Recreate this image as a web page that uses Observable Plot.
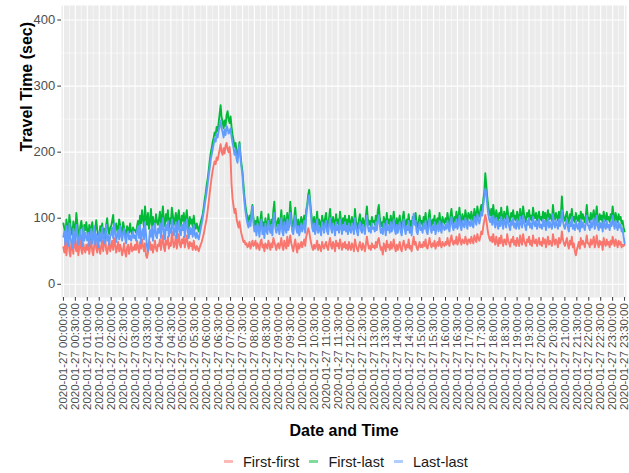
<!DOCTYPE html>
<html>
<head>
<meta charset="utf-8">
<script src="https://cdn.jsdelivr.net/npm/d3@7"></script>
<script src="https://cdn.jsdelivr.net/npm/@observablehq/plot@0.6"></script>
<style>
  html, body { margin: 0; padding: 0; background: #ffffff; }
  #chart { width: 629px; font-family: "Liberation Sans", Arial, sans-serif; }
  #legend { position: relative; height: 23px; display: flex; align-items: center;
            padding-left: 224px; font: 14.5px "Liberation Sans", Arial, sans-serif; color: #1a1a1a; }
  #legend .key { display: inline-block; width: 9px; height: 2.2px; margin-right: 10px; opacity: 0.5; }
  #legend .lab { margin-right: 10px; }
</style>
</head>
<body>
<div id="chart"></div>
<div id="legend"></div>
<script>
// Travel time (sec) on 2020-01-27, sampled every 2.5 minutes.
// Each inner array holds one hour of samples (hour 23 runs to 23:30).
const seriesNames = ["First-first", "First-last", "Last-last"];
const seriesColors = ["#F8766D", "#00BA38", "#619CFF"];
const sampleMinutes = 2.5;
const dateLabel = "2020-01-27";

const firstFirst = [
  [56,48,68,44, 60,72,50,42, 64,54,46,76, 58,50,66,44, 56,70,52,46, 62,54,48,60],
  [52,62,46,58, 68,50,44,60, 72,54,48,64, 56,46,58,66, 50,62,70,52, 46,56,64,50],
  [58,66,52,70, 60,48,56,64, 50,60,54,44, 52,62,48,42, 56,60,46,54, 62,50,56,52],
  [60,52,66,56, 48,64,54,68, 58,50,62,44, 40,48,56,64, 52,60,48,56, 66,54,50,60],
  [58,68,52,64, 74,56,50,66, 60,72,54,62, 58,80,66,56, 62,74,54,66, 76,60,56,68],
  [62,72,56,66, 74,60,54,64, 58,62,52,66, 56,52,58,54, 50,56,60,64, 70,76,84,92],
  [100,112,124,138, 150,162,172,180, 186,182,192,188, 196,204,212,200, 196,206,198,210, 214,204,200,208],
  [192,150,130,118, 108,114,100,92, 86,95,84,76, 70,64,66,60, 62,56,58,64, 54,60,66,58],
  [60,66,54,62, 58,52,64,68, 56,60,50,62, 58,54,66,60, 52,62,56,70, 64,58,52,60],
  [62,54,60,70, 58,52,66,60, 54,72,58,64, 74,62,56,50, 60,68,56,48, 62,54,58,64],
  [56,62,68,58, 72,78,85,80, 70,62,56,52, 60,54,58,66, 52,60,56,50, 64,58,54,60],
  [64,56,52,62, 70,58,54,64, 60,50,66,58, 62,54,68,60, 52,62,56,64, 54,60,52,64],
  [56,52,62,58, 50,68,60,54, 50,58,64,56, 52,62,58,50, 60,72,62,54, 58,52,62,56],
  [58,54,64,56, 66,70,60,52, 56,45,62,58, 50,66,56,60, 52,64,54,58, 68,56,50,60],
  [52,58,64,54, 50,60,66,58, 52,60,56,68, 54,58,50,62, 72,60,64,56, 52,58,64,56],
  [60,56,64,58, 68,56,54,62, 70,60,56,62, 58,66,54,60, 64,58,70,60, 56,64,60,58],
  [64,60,70,62, 58,68,74,64, 60,66,62,72, 60,64,76,66, 60,68,64,62, 72,66,60,68],
  [68,62,72,66, 62,74,68,64, 76,70,66,72, 80,76,88,96, 105,98,86,76, 70,66,72,64],
  [76,66,60,72, 64,58,70,62, 74,64,58,68, 66,60,76,66, 62,57,68,64, 72,60,66,58],
  [70,64,58,74, 64,60,76,66, 62,58,68,64, 72,60,66,58, 74,64,62,68, 58,64,70,60],
  [64,58,70,62, 68,56,64,72, 60,66,62,58, 76,66,60,68, 64,56,70,62, 66,80,68,62],
  [58,64,70,60, 54,66,60,72, 56,62,50,44, 52,58,64,54, 70,60,66,62, 56,64,74,62],
  [62,56,68,60, 64,72,56,62, 74,62,56,66, 60,64,52,70, 62,58,68,60, 64,56,66,60],
  [72,64,58,68, 62,56,66,60, 64,56,60,58, 60]
];

const firstLast = [
  [92,84,70,98, 88,76,105,90, 82,74,95,86, 80,108,92,78, 70,88,96,84, 72,90,82,94],
  [80,72,90,68, 86,94,78,70, 84,97,82,74, 66,88,80,92, 76,84,70,90, 100,82,76,86],
  [88,96,105,84, 78,92,86,74, 98,90,82,76, 94,86,80,72, 88,84,78,92, 80,76,86,82],
  [82,78,88,96, 84,104,92,112, 98,86,118,100, 90,108,84,96, 114,88,102,92, 84,106,96,90],
  [98,110,86,102, 118,94,88,106, 96,112,84,100, 92,116,104,90, 98,108,86,102, 112,94,88,104],
  [96,108,88,100, 112,94,84,102, 92,98,86,104, 90,84,92,86, 80,88,94,100, 106,116,128,138],
  [150,160,172,186, 198,206,215,222, 230,226,238,232, 244,258,271,252, 246,236,248,240, 256,262,250,244],
  [254,238,226,218, 208,214,200,192, 205,215,196,182, 170,150,132,118, 108,100,94,104, 96,110,120,100],
  [88,96,84,102, 92,80,98,110, 86,94,82,100, 90,84,106,92, 88,98,84,112, 125,96,88,94],
  [100,86,94,112, 90,84,104,96, 88,108,92,98, 125,104,90,86, 100,116,94,88, 98,84,92,102],
  [90,96,104,88, 112,120,135,143, 126,108,96,90, 102,86,94,110, 88,98,92,84, 104,96,88,100],
  [108,92,86,100, 114,94,88,102, 96,84,106,92, 98,88,110,96, 86,100,92,104, 90,98,86,104],
  [92,88,102,94, 86,114,96,90, 84,98,106,92, 88,100,94,86, 104,118,98,90, 96,88,102,94],
  [96,90,104,92, 112,120,100,88, 94,86,102,96, 84,108,92,98, 88,104,90,96, 110,92,86,100],
  [88,96,104,90, 84,100,110,94, 86,98,92,106, 88,96,84,102, 94,100,108,90, 86,96,104,92],
  [96,88,102,94, 108,90,86,100, 112,94,88,98, 92,104,86,96, 100,90,108,94, 88,102,96,92],
  [100,94,108,96, 90,104,114,98, 92,102,96,110, 94,100,116,98, 92,106,100,96, 112,102,94,108],
  [104,98,110,100, 96,114,106,100, 118,108,102,112, 120,110,128,140, 168,150,132,118, 110,104,114,100],
  [120,106,98,112, 104,96,108,100, 116,102,94,110, 104,98,118,106, 100,94,108,102, 112,98,104,96],
  [110,102,96,114, 104,98,118,106, 100,94,108,102, 112,98,104,96, 116,104,100,108, 96,102,110,98],
  [102,96,110,100, 108,94,104,112, 98,106,100,96, 120,104,98,108, 102,96,110,100, 106,133,108,100],
  [96,104,110,98, 92,106,100,114, 96,102,94,108, 100,96,104,92, 110,98,106,100, 94,104,120,102],
  [100,94,108,98, 104,112,96,102, 118,100,94,106, 98,104,92,110, 100,96,108,98, 102,94,106,100],
  [118,104,96,108, 100,94,106,98, 102,92,96,86, 80]
];

const lastLast = [
  [72,80,60,88, 66,58,92,70, 64,55,84,74, 62,90,76,60, 68,82,70,58, 86,66,78,72],
  [66,78,58,74, 84,62,70,88, 60,76,68,56, 80,72,64,86, 70,62,78,90, 66,74,60,72],
  [76,86,70,92, 80,64,74,82, 68,88,74,66, 78,84,70,62, 76,80,68,74, 66,72,80,70],
  [74,66,80,88, 70,90,62,78, 84,68,94,76, 58,50,64,82, 72,88,66,80, 92,74,70,84],
  [78,92,70,86, 100,76,68,90, 82,96,72,84, 78,98,88,74, 82,94,70,86, 96,80,74,90],
  [82,94,72,88, 98,80,70,86, 76,84,72,90, 76,70,78,72, 68,76,84,92, 100,110,120,130],
  [140,152,164,176, 188,196,204,212, 220,216,228,222, 232,240,248,236, 230,222,234,226, 240,236,228,232],
  [236,222,214,206, 196,204,190,184, 200,212,190,176, 164,140,124,110, 100,92,86,96, 88,104,118,92],
  [80,88,74,92, 84,72,90,98, 76,86,70,92, 82,76,96,84, 78,90,74,100, 108,86,78,84],
  [90,76,86,100, 80,74,94,84, 78,98,82,88, 108,94,80,76, 90,104,84,78, 88,74,82,92],
  [80,86,96,78, 104,116,128,135, 120,100,86,80, 92,76,84,98, 78,88,82,74, 94,86,78,90],
  [96,80,76,90, 100,84,78,92, 86,74,94,82, 88,78,98,86, 76,90,82,94, 80,88,76,92],
  [82,78,92,84, 76,100,86,80, 74,88,94,82, 78,90,84,76, 92,104,88,80, 86,78,92,84],
  [86,80,94,82, 98,104,90,78, 84,76,92,86, 74,96,82,88, 78,94,80,86, 98,82,76,90],
  [78,86,94,80, 74,90,98,84, 76,88,82,96, 78,86,74,92, 107,90,96,80, 76,86,94,82],
  [86,78,92,84, 96,80,76,90, 100,84,78,88, 82,94,76,86, 90,80,96,84, 78,92,86,82],
  [90,84,96,86, 80,94,102,88, 82,92,86,98, 84,90,104,88, 82,96,90,86, 100,92,84,96],
  [94,88,98,90, 86,102,96,90, 106,98,92,100, 110,104,120,132, 145,138,120,106, 98,94,102,90],
  [104,94,86,100, 92,84,96,88, 102,92,84,98, 94,86,104,94, 88,82,96,90, 100,86,92,84],
  [98,90,84,102, 92,86,104,94, 88,82,96,90, 100,86,92,84, 102,92,88,96, 84,90,98,86],
  [90,84,98,88, 96,82,92,100, 86,94,88,84, 106,92,86,96, 90,84,98,88, 94,112,96,88],
  [84,92,98,86, 80,94,88,102, 84,90,82,96, 88,84,92,80, 98,86,94,88, 82,92,104,90],
  [88,82,96,86, 92,100,84,90, 104,88,82,94, 86,92,80,98, 88,84,96,86, 90,82,94,88],
  [104,92,84,96, 88,82,94,86, 90,80,84,72, 62]
];

// Axis breaks: every 30 minutes on x (in hours), every 100 s on y
const xBreaks = d3.range(0, 24, 0.5);
const xMinorBreaks = d3.range(0.25, 23.6, 0.5);
const yBreaks = [0, 100, 200, 300, 400];
const yMinorBreaks = [50, 150, 250, 350];

const pad = n => String(n).padStart(2, "0");
const fmtTick = h => {
  const mins = Math.round(h * 60);
  return `${dateLabel} ${pad(Math.floor(mins / 60))}:${pad(mins % 60)}:00`;
};

// Long-format table, one row per sample and series (draw order: red, green, blue)
const valuesBySeries = [firstFirst, firstLast, lastLast];
const rows = [];
seriesNames.forEach((name, s) => {
  valuesBySeries[s].forEach((hourValues, h) => {
    hourValues.forEach((v, j) => {
      rows.push({series: name, hour: h + (j * sampleMinutes) / 60, value: v});
    });
  });
});

const W = 629, H = 450;
const font = "Liberation Sans, Arial, sans-serif";

const plot = Plot.plot({
  width: W,
  height: H,
  marginLeft: 61,
  marginRight: 3,
  marginTop: 5,
  marginBottom: 153,
  style: {fontFamily: font, background: "#ffffff", overflow: "visible"},
  x: {type: "linear", domain: [-0.08, 23.58], axis: null},
  y: {domain: [-20, 422], axis: null},
  color: {domain: seriesNames, range: seriesColors},
  marks: [
    Plot.frame({fill: "#EBEBEB", stroke: null}),
    Plot.ruleY(yMinorBreaks, {stroke: "#ffffff", strokeWidth: 0.55}),
    Plot.ruleX(xMinorBreaks, {stroke: "#ffffff", strokeWidth: 0.55}),
    Plot.ruleY(yBreaks, {stroke: "#ffffff", strokeWidth: 1.1}),
    Plot.ruleX(xBreaks, {stroke: "#ffffff", strokeWidth: 1.1}),
    Plot.line(rows, {x: "hour", y: "value", z: "series", stroke: "series",
                     strokeWidth: 1.9, strokeLinejoin: "round"}),
    Plot.axisY({ticks: yBreaks, tickSize: 3.7, tickPadding: 2.5, fontSize: 13,
                label: null, stroke: "#333333", fill: "#4D4D4D"}),
    Plot.axisX({ticks: xBreaks, tickFormat: fmtTick, tickRotate: -90, tickSize: 3.7,
                tickPadding: 2, fontSize: 11.5, label: null, stroke: "#333333", fill: "#4D4D4D"}),
    Plot.text(["Travel Time (sec)"], {frameAnchor: "left", dx: -35, rotate: -90,
              fontSize: 16, fontWeight: "bold", fill: "#000000"}),
    Plot.text(["Date and Time"], {frameAnchor: "bottom", dy: 138,
              fontSize: 16, fontWeight: "bold", fill: "#000000"})
  ]
});
document.getElementById("chart").appendChild(plot);

// Legend below the plot
const legend = document.getElementById("legend");
seriesNames.forEach((name, i) => {
  const key = document.createElement("span");
  key.className = "key";
  key.style.background = seriesColors[i];
  const lab = document.createElement("span");
  lab.className = "lab";
  lab.textContent = name;
  legend.appendChild(key);
  legend.appendChild(lab);
});
</script>
</body>
</html>
